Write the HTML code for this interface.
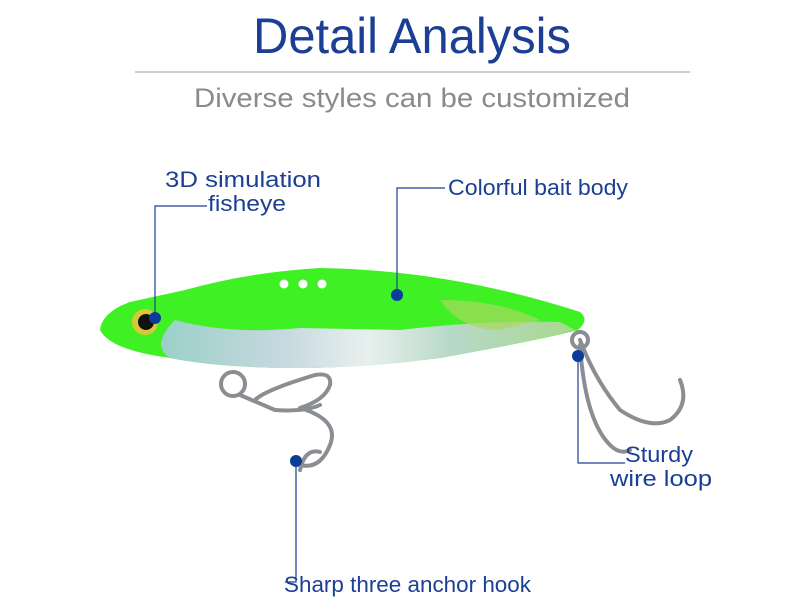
<!DOCTYPE html>
<html><head><style>
body{margin:0;width:800px;height:614px;background:#fff;overflow:hidden;font-family:"Liberation Sans",sans-serif;}
svg{display:block}
</style></head><body>
<svg width="800" height="614" viewBox="0 0 800 614">
<defs>
<linearGradient id="sil" x1="0" y1="0" x2="1" y2="0">
<stop offset="0" stop-color="#9ad0c8"/><stop offset="0.3" stop-color="#c8d8e0"/><stop offset="0.5" stop-color="#e8f0ee"/><stop offset="0.7" stop-color="#b8d8c8"/><stop offset="1" stop-color="#a8d890"/>
</linearGradient>
</defs>
<text x="412" y="53" text-anchor="middle" font-size="50" fill="#1b3f94" font-family="Liberation Sans Narrow, Liberation Sans, sans-serif" textLength="318" lengthAdjust="spacingAndGlyphs">Detail Analysis</text>
<line x1="135" y1="72" x2="690" y2="72" stroke="#9a9a9a" stroke-width="1"/>
<text x="412" y="107" text-anchor="middle" font-size="27" fill="#8a8a8a" textLength="436" lengthAdjust="spacingAndGlyphs">Diverse styles can be customized</text>

<!-- hooks -->
<g fill="none" stroke="#8a8e92" stroke-width="4" stroke-linecap="round">
<circle cx="233" cy="384" r="12"/>
<path d="M240 395 L275 410 Q305 412 320 405"/>
<path d="M300 408 Q340 420 330 445 Q320 470 300 465"/>
<path d="M255 400 Q265 390 315 375 Q332 372 330 385 Q325 400 300 408"/>
<path d="M300 470 Q305 448 320 452"/>
<path d="M580 340 Q595 380 620 410 Q650 430 670 420 Q690 405 680 380"/>
<path d="M580 345 Q585 420 610 445 Q620 455 630 450"/>
<circle cx="580" cy="340" r="8"/>
</g>
<!-- body -->
<path d="M100 330 Q102 312 130 302 L185 290 Q250 272 320 268 Q450 270 580 312 Q590 320 578 330 Q540 340 440 358 Q360 368 300 368 Q220 368 170 358 Q110 350 100 330 Z" fill="#3ff024"/>
<path d="M175 320 Q230 335 300 328 L400 330 Q480 320 560 322 L575 330 Q540 340 440 358 Q360 368 300 368 Q220 368 170 358 Q150 345 175 320 Z" fill="url(#sil)"/>
<path d="M440 300 Q500 300 540 320 L500 330 Q460 330 440 300 Z" fill="#a8d860" opacity="0.7"/>
<circle cx="284" cy="284" r="4.5" fill="#fff"/><circle cx="303" cy="284" r="4.5" fill="#fff"/><circle cx="322" cy="284" r="4.5" fill="#fff"/>
<circle cx="145" cy="322" r="13" fill="#d8c838"/><circle cx="146" cy="322" r="8" fill="#111"/>

<!-- callouts -->
<g fill="none" stroke="#1b3f94" stroke-width="1.2">
<polyline points="155,318 155,206 207,206"/>
<polyline points="397,295 397,188 445,188"/>
<polyline points="578,355 578,463 625,463"/>
<polyline points="296,461 296,582 285,582"/>
</g>
<g fill="#0a3d9a">
<circle cx="155" cy="318" r="6"/><circle cx="397" cy="295" r="6"/><circle cx="578" cy="356" r="6"/><circle cx="296" cy="461" r="6"/>
</g>
<g fill="#1b3f94" font-size="22">
<text x="165" y="187" textLength="156" lengthAdjust="spacingAndGlyphs">3D simulation</text>
<text x="208" y="211" textLength="78" lengthAdjust="spacingAndGlyphs">fisheye</text>
<text x="448" y="195" textLength="180" lengthAdjust="spacingAndGlyphs">Colorful bait body</text>
<text x="625" y="462" textLength="68" lengthAdjust="spacingAndGlyphs">Sturdy</text>
<text x="610" y="486" textLength="102" lengthAdjust="spacingAndGlyphs">wire loop</text>
<text x="284" y="592" textLength="247" lengthAdjust="spacingAndGlyphs">Sharp three anchor hook</text>
</g>
</svg>
</body></html>
